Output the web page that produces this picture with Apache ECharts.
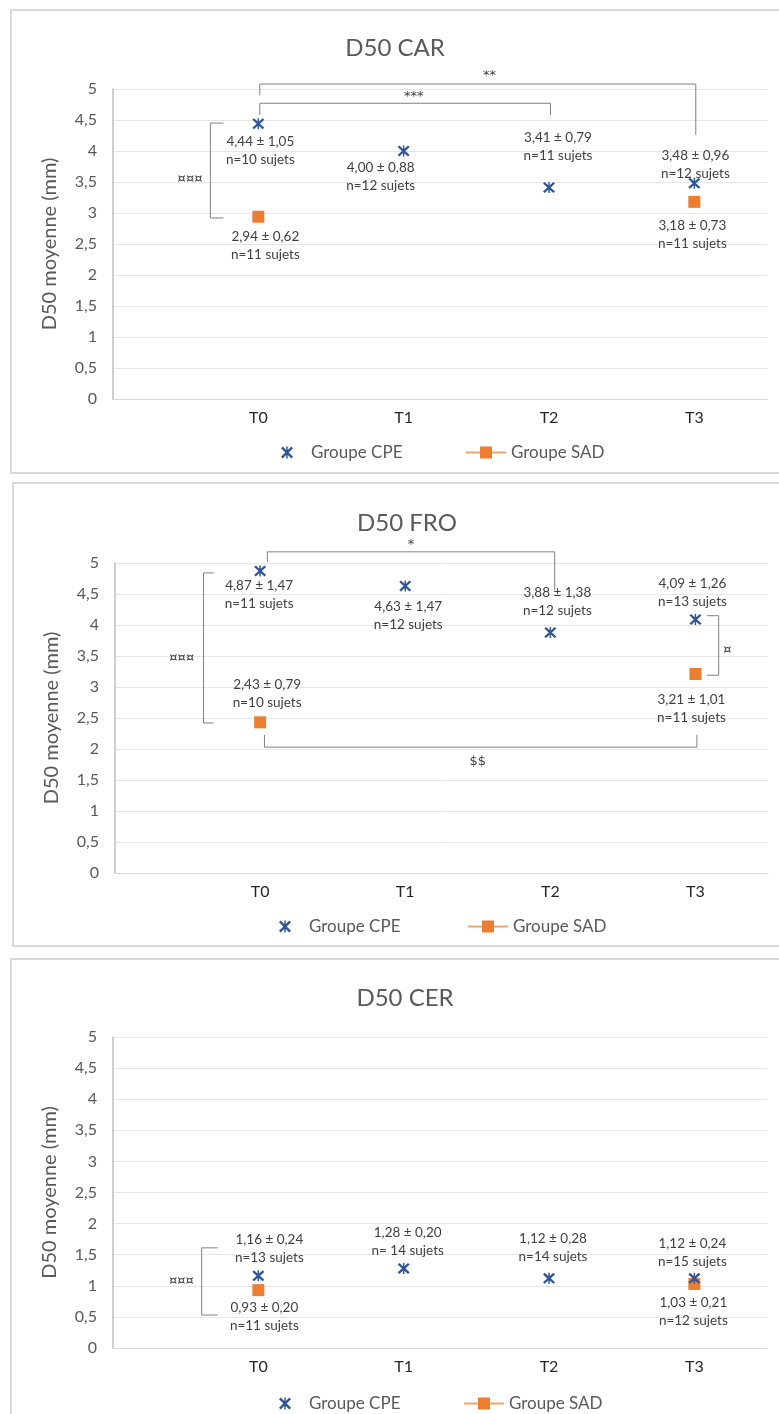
<!DOCTYPE html>
<html><head><meta charset="utf-8">
<script src="https://cdn.jsdelivr.net/npm/echarts@6/dist/echarts.min.js"></script>
<style>html,body{margin:0;padding:0;background:#fff}#c{width:779px;height:1414px}</style>
</head><body><div id="c"></div>
<script>
// ---------- data ----------
const categories = ['T0', 'T1', 'T2', 'T3'];
const yMin = 0, yMax = 5, yStep = 0.5;

// D50 CAR
const carCPEmean = [4.44, 4.00, 3.41, 3.48];
const carCPEsd   = [1.05, 0.88, 0.79, 0.96];
const carCPEn    = ['10', '12', '11', '12'];
const carSADmean = [2.94, null, null, 3.18];
const carSADsd   = [0.62, null, null, 0.73];
const carSADn    = ['11', null, null, '11'];

// D50 FRO
const froCPEmean = [4.87, 4.63, 3.88, 4.09];
const froCPEsd   = [1.47, 1.47, 1.38, 1.26];
const froCPEn    = ['11', '12', '12', '13'];
const froSADmean = [2.43, null, null, 3.21];
const froSADsd   = [0.79, null, null, 1.01];
const froSADn    = ['10', null, null, '11'];

// D50 CER
const cerCPEmean = [1.16, 1.28, 1.12, 1.12];
const cerCPEsd   = [0.24, 0.20, 0.28, 0.24];
const cerCPEn    = ['13', ' 14', '14', '15'];
const cerSADmean = [0.93, null, null, 1.03];
const cerSADsd   = [0.20, null, null, 0.21];
const cerSADn    = ['11', null, null, '12'];

// significance annotations (text)
const carNotes = ['¤¤¤', '***', '**'];
const froNotes = ['¤¤¤', '*', '$$', '¤'];
const cerNotes = ['¤¤¤'];

// ---------- layout (positions / styles) ----------
const FONT = 'Lato, "Noto Sans", sans-serif';
const BLUE = '#2f5597', ORANGE = '#ed7d31', GREY = '#595959', LINE = '#808080';
const STAR = 'path://M44,0 L56,0 L56,100 L44,100 Z M0,14 L14,0 L100,86 L86,100 Z M86,0 L100,14 L14,100 L0,86 Z';

const panels = [
  {
    title: 'D50 CAR', titleX: 390, titleTop: 31,
    frame: [11, 10, 820, 463],
    grid: { left: 113, top: 89, width: 654, height: 310 },
    legendTop: 444, legendCPE: 281, legendSAD: 465,
    cpe: { mean: carCPEmean, sd: carCPEsd, n: carCPEn, off: [[2, 27], [-23, 26], [9, -41], [1, -19]] },
    sad: { mean: carSADmean, sd: carSADsd, n: carSADn, off: [[7, 29], null, null, [-2, 33]] },
    brackets: [
      [[0.76, 4.45], [0.67, 4.45], [0.67, 2.92], [0.76, 2.92]],
      [[1.01, 4.58], [1.01, 4.77], [3.01, 4.77], [3.01, 4.58]],
      [[1.01, 4.90], [1.01, 5.08], [4.01, 5.08], [4.01, 4.26]]
    ],
    notes: carNotes, notePos: [[0.53, 3.55], [2.07, 4.87], [2.59, 5.21]]
  },
  {
    title: 'D50 FRO', titleX: 402, titleTop: 506,
    frame: [13, 483, 820, 463],
    grid: { left: 115, top: 563, width: 653, height: 310 },
    legendTop: 918, legendCPE: 279, legendSAD: 467,
    cpe: { mean: froCPEmean, sd: froCPEsd, n: froCPEn, off: [[-1, 24], [3, 30], [7, -31], [-3, -27]] },
    sad: { mean: froSADmean, sd: froSADsd, n: froSADn, off: [[7, -29], null, null, [-4, 35]] },
    brackets: [
      [[0.68, 4.84], [0.61, 4.84], [0.61, 2.42], [0.68, 2.42]],
      [[1.05, 5.02], [1.05, 5.18], [3.03, 5.18], [3.03, 4.56]],
      [[1.03, 2.23], [1.03, 2.03], [4.01, 2.03], [4.01, 2.23]],
      [[4.08, 4.15], [4.16, 4.15], [4.16, 3.19], [4.08, 3.19]]
    ],
    notes: froNotes, notePos: [[0.46, 3.47], [2.04, 5.29], [2.50, 1.79], [4.22, 3.61]]
  },
  {
    title: 'D50 CER', titleX: 400, titleTop: 981,
    frame: [11, 959, 820, 500],
    grid: { left: 113, top: 1037, width: 654, height: 311 },
    legendTop: 1395, legendCPE: 279, legendSAD: 463,
    cpe: { mean: cerCPEmean, sd: cerCPEsd, n: cerCPEn, off: [[11, -27], [4, -27], [4, -31], [-2, -26]] },
    sad: { mean: cerSADmean, sd: cerSADsd, n: cerSADn, off: [[6, 26], null, null, [-1, 28]] },
    brackets: [
      [[0.72, 1.61], [0.61, 1.61], [0.61, 0.53], [0.72, 0.53]]
    ],
    notes: cerNotes, notePos: [[0.47, 1.08]]
  }
];

const fmt = v => v.toFixed(2).replace('.', ',');
const labelStyle = {
  color: '#404040', fontSize: 13.5, lineHeight: 18, fontFamily: FONT,
  textBorderWidth: 0, textShadowBlur: 0
};

function pointData(g) {
  return categories.map((c, i) => {
    const m = g.mean[i];
    if (m === null) return { value: [i + 1, '-'] };
    return {
      value: [i + 1, m],
      label: {
        show: true, position: 'inside', offset: g.off[i],
        formatter: fmt(m) + ' ± ' + fmt(g.sd[i]) + '\nn=' + g.n[i] + ' sujets',
        ...labelStyle
      }
    };
  });
}

const option = {
  backgroundColor: '#fff',
  animation: false,
  title: [], grid: [], xAxis: [], yAxis: [], legend: [], series: [],
  graphic: []
};

panels.forEach((p, k) => {
  option.graphic.push({
    type: 'rect', silent: true, z: -10,
    shape: { x: p.frame[0], y: p.frame[1], width: p.frame[2], height: p.frame[3] },
    style: { fill: 'none', stroke: '#d9d9d9', lineWidth: 2 }
  });
  option.title.push({
    text: p.title, left: p.titleX, top: p.titleTop, textAlign: 'center',
    textStyle: { fontFamily: FONT, fontSize: 24, fontWeight: 'normal', color: GREY }
  });
  option.grid.push(p.grid);
  option.xAxis.push({
    type: 'value', gridIndex: k, min: 0, max: 4.5, interval: 1,
    axisLine: { show: true, lineStyle: { color: '#d9d9d9', width: 1 } },
    axisTick: { show: false },
    splitLine: { show: false },
    axisLabel: {
      margin: 11, fontFamily: FONT, fontSize: 16, color: '#262626',
      showMaxLabel: false,
      formatter: v => (Number.isInteger(v) && v >= 1 && v <= categories.length) ? categories[v - 1] : ''
    }
  });
  option.yAxis.push({
    type: 'value', gridIndex: k, min: yMin, max: yMax, interval: yStep,
    name: 'D50 moyenne (mm)', nameLocation: 'middle', nameGap: 53,
    nameTextStyle: { fontFamily: FONT, fontSize: 20, color: GREY },
    axisLine: { show: true, lineStyle: { color: '#bfbfbf', width: 1.5 } },
    axisTick: { show: false },
    splitLine: { show: true, lineStyle: { color: '#e6e6e6', width: 1 } },
    axisLabel: {
      margin: 16, fontFamily: FONT, fontSize: 16, color: GREY,
      formatter: v => String(v).replace('.', ',')
    }
  });
  option.legend.push({
    data: ['Groupe CPE'], left: p.legendCPE, top: p.legendTop, padding: 0,
    itemWidth: 38, itemHeight: 12, itemGap: 0,
    textStyle: { fontFamily: FONT, fontSize: 17, color: GREY }
  });
  option.legend.push({
    data: ['Groupe SAD'], left: p.legendSAD, top: p.legendTop, padding: 0,
    itemWidth: 40, itemHeight: 15, itemGap: 0,
    textStyle: { fontFamily: FONT, fontSize: 17, color: GREY }
  });

  p.brackets.forEach(b => {
    option.series.push({
      type: 'line', xAxisIndex: k, yAxisIndex: k, data: b,
      symbol: 'none', clip: false, silent: true, z: 1,
      lineStyle: { color: LINE, width: 1 }
    });
  });
  option.series.push({
    type: 'scatter', xAxisIndex: k, yAxisIndex: k, silent: true, z: 1,
    symbolSize: 0, clip: false,
    itemStyle: { opacity: 1 },
    data: p.notes.map((t, i) => ({ value: [p.notePos[i][0], p.notePos[i][1]], label: { formatter: t } })),
    label: { show: true, position: 'inside', color: '#404040', fontSize: 13, fontFamily: 'DejaVu Sans, ' + FONT }
  });
  option.series.push({
    name: 'Groupe SAD', type: 'line', xAxisIndex: k, yAxisIndex: k, z: 3,
    data: pointData(p.sad), connectNulls: false,
    symbol: 'rect', symbolSize: 12, showAllSymbol: true, clip: false,
    itemStyle: { color: ORANGE, opacity: 1 },
    lineStyle: { color: '#f0a26c', width: 1.5 }
  });
  option.series.push({
    name: 'Groupe CPE', type: 'scatter', xAxisIndex: k, yAxisIndex: k, z: 4,
    data: pointData(p.cpe), clip: false,
    symbol: STAR, symbolSize: [12, 11],
    itemStyle: { color: BLUE, opacity: 1 }
  });
});

const chart = echarts.init(document.getElementById('c'), null, { renderer: 'canvas' });
chart.setOption(option);
</script>
</body></html>
